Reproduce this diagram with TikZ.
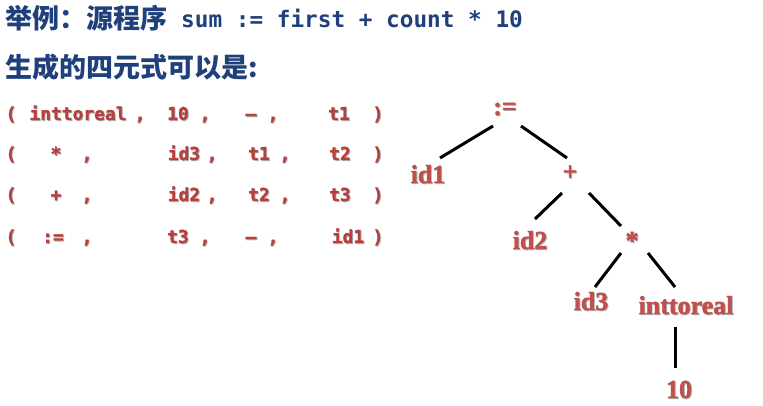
\documentclass[tikz,border=0pt]{standalone}
\usepackage{fontspec}
\usetikzlibrary{calc}
\newfontfamily\cjk{Noto Sans CJK SC}
\newfontfamily\monof{DejaVu Sans Mono}
\newfontfamily\qmonof{DejaVu Sans Mono}[BoldFeatures={FakeBold=1.5}]
\newfontfamily\treef{Liberation Serif}[BoldFeatures={FakeBold=1.5}]
\definecolor{hdblue}{RGB}{31,64,122}
\definecolor{qred}{RGB}{181,64,62}
\definecolor{tred}{RGB}{192,80,77}
\newcommand\shad[1]{\makebox[0pt][l]{\kern0.9pt\raisebox{-0.9pt}{\textcolor{black!30}{#1}}}#1}
\tikzset{
  hd/.style={text=hdblue, inner sep=0, anchor=base west},
  qtok/.style={text=qred, inner sep=0, anchor=base, font=\qmonof\bfseries\fontsize{17.9}{20}\selectfont},
  tnode/.style={text=tred, inner sep=0, anchor=base, font=\treef\bfseries\fontsize{26}{30}\selectfont},
  edge/.style={line width=3pt, black}
}
\begin{document}
\begin{tikzpicture}[x=1pt,y=-1pt]
\path[fill=white,use as bounding box] (0,0) rectangle (763,406);
% headers
\node[hd, font=\cjk\bfseries\fontsize{27}{31}\selectfont] (t1cn) at (5,29) {举例：源程序};
\node[hd, font=\monof\bfseries\fontsize{22.7}{26}\selectfont] (t1code) at (181,28) {sum := first + count * 10};
\node[hd, font=\cjk\bfseries\fontsize{27}{31}\selectfont] (t2cn) at (5,78) {生成的四元式可以是:};
% quadruples
\foreach \x/\t [count=\i] in {11/(, 78/inttoreal, 140/{,}, 178/10, 205/{,}, 251/–, 273/{,}, 339/t1, 378/)}
  \node[qtok] (qa\i) at (\x,120) {\shad{\t}};
\foreach \x/\t [count=\i] in {11/(, 56/*, 87/{,}, 184/id3, 212/{,}, 259/t1, 285/{,}, 340/t2, 378/)}
  \node[qtok] (qb\i) at (\x,160) {\shad{\t}};
\foreach \x/\t [count=\i] in {11/(, 56/+, 87/{,}, 184/id2, 212/{,}, 259/t2, 285/{,}, 340/t3, 378/)}
  \node[qtok] (qc\i) at (\x,201) {\shad{\t}};
\foreach \x/\t [count=\i] in {11/(, 53/:=, 87/{,}, 178/t3, 205/{,}, 251/–, 273/{,}, 348/id1, 378/)}
  \node[qtok] (qd\i) at (\x,243) {\shad{\t}};
% tree
\node[tnode] (root) at (505,115) {\shad{:=}};
\node[tnode] (id1) at (428,183) {\shad{id1}};
\node[tnode] (plus) at (570,180) {\shad{+}};
\node[tnode] (id2) at (530,249) {\shad{id2}};
\node[tnode] (star) at (632,249) {\shad{*}};
\node[tnode] (id3) at (591,310) {\shad{id3}};
\node[tnode] (itr) at (686,314) {\shad{inttoreal}};
\node[tnode] (ten) at (679,398) {\shad{10}};
\draw[edge] ($(root.base)+(-12,11)$) -- ($(id1.base)+(12,-25)$);
\draw[edge] ($(root.base)+(16,11)$) -- ($(plus.base)+(-3,-22)$);
\draw[edge] ($(plus.base)+(-8,13)$) -- ($(id2.base)+(5,-30)$);
\draw[edge] ($(plus.base)+(19,13)$) -- ($(star.base)+(-11,-23)$);
\draw[edge] ($(star.base)+(-11,4)$) -- ($(id3.base)+(4,-23)$);
\draw[edge] ($(star.base)+(16,4)$) -- ($(itr.base)+(-11,-27)$);
\draw[edge] ($(itr.base)+(-11,13)$) -- ($(ten.base)+(-4,-30)$);
\end{tikzpicture}
\end{document}
